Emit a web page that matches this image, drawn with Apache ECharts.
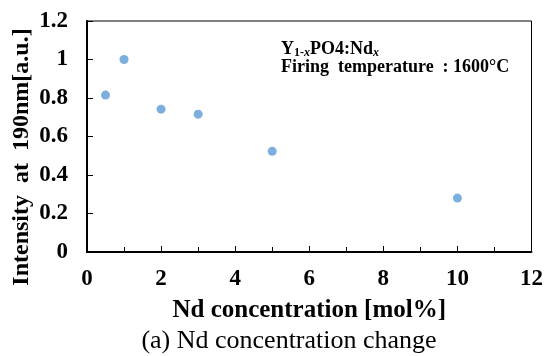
<!DOCTYPE html>
<html><head><meta charset="utf-8">
<script src="https://cdn.jsdelivr.net/npm/echarts@6/dist/echarts.min.js"></script>
<style>html,body{margin:0;padding:0;background:#fff}#c{width:546px;height:356px}</style>
</head><body><div id="c"></div>
<script>
const ndConcentration = [0.5, 1, 2, 3, 5, 10];
const intensity = [0.815, 1.0, 0.742, 0.716, 0.523, 0.28];
const xName = 'Nd concentration [mol%]';
const yName = 'Intensity  at  190nm[a.u.]';
const caption = '(a) Nd concentration change';

const F = 'Liberation Serif';
const chart = echarts.init(document.getElementById('c'));
chart.setOption({
  animation: false,
  backgroundColor: '#fff',
  grid: {left: 87, right: 13, top: 21, bottom: 104, show: true, borderColor: '#000', borderWidth: 1},
  xAxis: {
    type: 'value', min: 0, max: 12, interval: 2,
    name: xName, nameLocation: 'middle', nameGap: 46,
    nameTextStyle: {fontFamily: F, fontWeight: 'bold', fontSize: 25, color: '#000'},
    axisLine: {lineStyle: {color: '#000', width: 2}},
    axisTick: {inside: true, length: 6, lineStyle: {color: '#000', width: 1}},
    minorTick: {show: true, splitNumber: 2, length: 5, lineStyle: {color: '#000', width: 1}},
    axisLabel: {fontFamily: F, fontWeight: 'bold', fontSize: 23, color: '#000', margin: 16},
    splitLine: {show: false}
  },
  yAxis: {
    type: 'value', min: 0, max: 1.2, interval: 0.2,
    axisLine: {show: true, lineStyle: {color: '#000', width: 2}},
    axisTick: {show: true, inside: true, length: 6, lineStyle: {color: '#000', width: 1}},
    axisLabel: {fontFamily: F, fontWeight: 'bold', fontSize: 23, color: '#000', margin: 19},
    splitLine: {show: false}
  },
  series: [{
    type: 'scatter', symbolSize: 9,
    itemStyle: {color: '#5b9bd5'},
    data: ndConcentration.map((x, i) => [x, intensity[i]])
  }],
  graphic: [
    {type: 'text', x: 22, y: 157, rotation: Math.PI / 2, style: {
      text: yName, fontFamily: F, fontWeight: 'bold', fontSize: 24, fill: '#000',
      align: 'center', verticalAlign: 'middle'}},
    {type: 'text', left: 281, top: 40, style: {
      text: '{b|Y}{s|1-}{si|x}{b|PO4:Nd}{si|x}',
      rich: {
        b: {fontFamily: F, fontWeight: 'bold', fontSize: 18, fill: '#000'},
        s: {fontFamily: F, fontWeight: 'bold', fontSize: 12, fill: '#000', padding: [7, 0, 0, 0]},
        si: {fontFamily: F, fontWeight: 'bold', fontStyle: 'italic', fontSize: 12, fill: '#000', padding: [7, 0, 0, 0]}
      }}},
    {type: 'text', left: 281, top: 58, style: {
      text: 'Firing  temperature  : 1600°C',
      fontFamily: F, fontWeight: 'bold', fontSize: 18, fill: '#000'}},
    {type: 'text', x: 289, y: 341, style: {
      text: caption, fontFamily: F, fontSize: 26, fill: '#000',
      align: 'center', verticalAlign: 'middle'}}
  ]
});
</script></body></html>
